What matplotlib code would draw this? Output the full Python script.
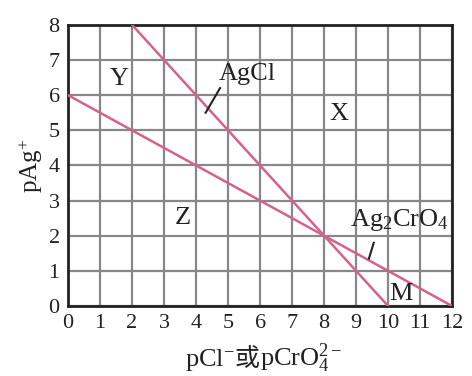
import matplotlib
matplotlib.use("Agg")
import matplotlib.pyplot as plt
import numpy as np

plt.rcParams['font.family'] = ['Liberation Serif', 'Noto Sans CJK SC']
plt.rcParams['mathtext.fontset'] = 'custom'
plt.rcParams['mathtext.rm'] = 'Liberation Serif'
plt.rcParams['mathtext.it'] = 'Liberation Serif:italic'
plt.rcParams['mathtext.bf'] = 'Liberation Serif:bold'

# data: endpoints of the two saturation lines (pX, pAg)
agcl_x = [2, 10]
agcl_y = [8, 0]
ag2cro4_x = [0, 12]
ag2cro4_y = [6, 0]
xticks = list(range(0, 13))
yticks = list(range(0, 9))

line_color = '#d4628c'
txt = '#222222'

fig = plt.figure(figsize=(4.72, 3.76), dpi=100)
ax = fig.add_axes([0.144, 0.186, 0.814, 0.748])
ax.set_xlim(0, 12)
ax.set_ylim(0, 8)
ax.set_xticks(xticks)
ax.set_yticks(yticks)
ax.grid(True, color='#888888', linewidth=1.6)
ax.set_axisbelow(True)
for s in ax.spines.values():
    s.set_linewidth(2.0)
    s.set_color(txt)
ax.tick_params(length=0, labelsize=16, colors=txt)
ax.tick_params(axis='x', pad=6)
ax.tick_params(axis='y', pad=6)

ax.plot(agcl_x, agcl_y, color=line_color, lw=1.8, zorder=3)
ax.plot(ag2cro4_x, ag2cro4_y, color=line_color, lw=1.8, zorder=3)

tk = dict(fontsize=19, color=txt, ha='center', va='center')
ax.text(1.6, 6.45, 'Y', **tk)
ax.text(8.45, 5.45, 'X', **tk)
ax.text(3.6, 2.5, 'Z', **tk)
ax.text(10.4, 0.35, 'M', **tk)
ax.text(5.6, 6.6, 'AgCl', **tk)
ax.plot([4.3, 4.75], [5.5, 6.2], color=txt, lw=1.5, zorder=4)
ax.text(10.35, 2.45, r'Ag$_2$CrO$_4$', **tk)
ax.plot([9.4, 9.55], [1.35, 1.8], color=txt, lw=1.5, zorder=4)

fig.text(0.065, 0.56, r'pAg$^{+}$', rotation=90, fontsize=18, color=txt,
         ha='center', va='center')

# x label assembled from pieces
fig.canvas.draw()
r = fig.canvas.get_renderer()
x0 = 185 / 472
yb = 1 - 366 / 376
t1 = fig.text(x0, yb, r'pCl$^{-}$', fontsize=19, color=txt, ha='left', va='baseline')
bb = t1.get_window_extent(r)
t2 = fig.text(bb.x1 / fig.bbox.width, yb, '或', fontsize=18, color=txt,
              ha='left', va='baseline', family=['Noto Sans CJK SC'])
bb = t2.get_window_extent(r)
fig.text(bb.x1 / fig.bbox.width, yb, r'pCrO$_4^{2-}$', fontsize=19, color=txt,
         ha='left', va='baseline')

fig.savefig('out.png', dpi=100)
